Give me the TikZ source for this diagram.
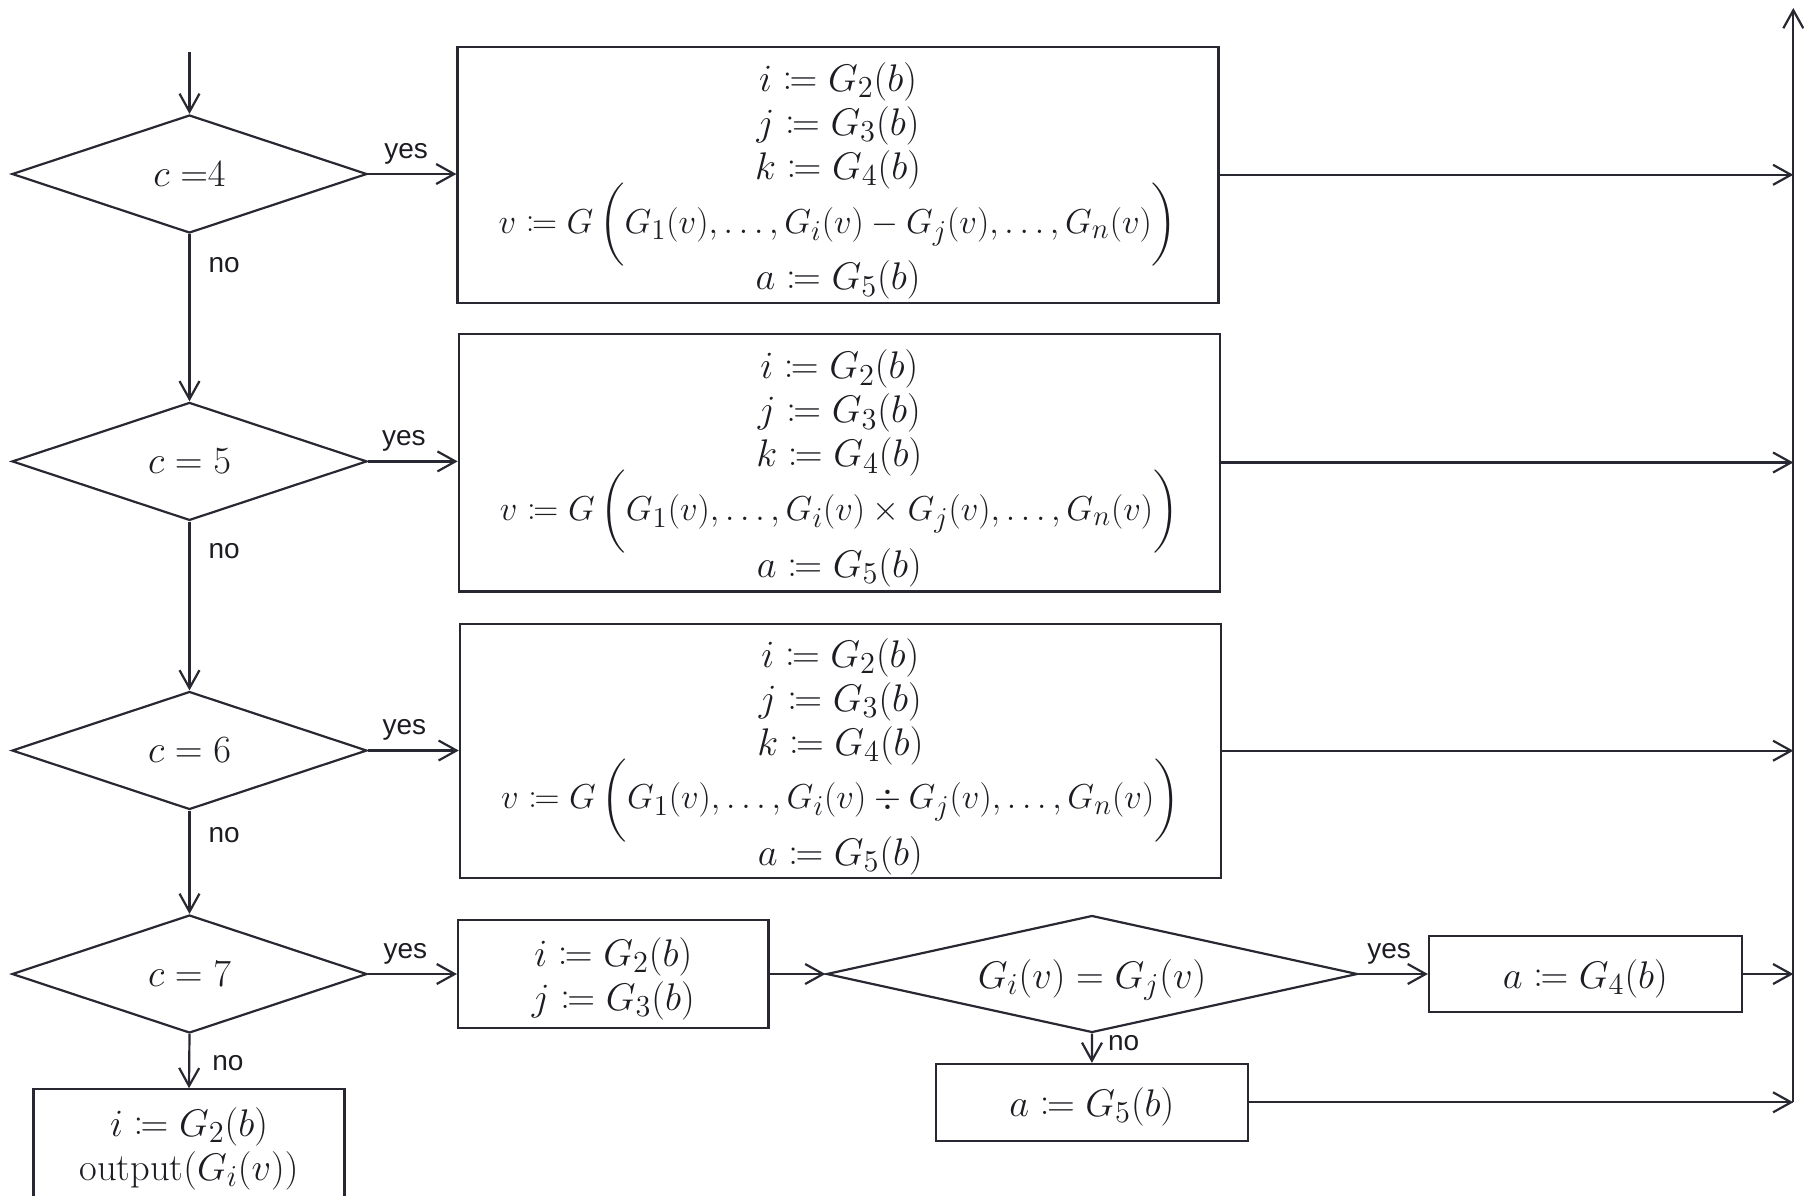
\RequirePackage{fix-cm}
\documentclass[tikz,border=0pt]{standalone}
\usepackage{mathtools}
\usepackage{fontspec}
\newfontfamily\lblfont{Liberation Sans}
\usetikzlibrary{shapes.geometric,arrows.meta}
\DeclareMathSizes{19.25}{19.25}{15.2}{12}
\DeclareMathSizes{17.3}{17.3}{14.4}{12}
\definecolor{ink}{RGB}{40,40,50}
\definecolor{txt}{RGB}{28,28,34}
\newcommand{\mfont}{\fontsize{19.25}{22}\selectfont}
\newcommand{\lfont}{\fontsize{17.3}{22}\selectfont}
\newcommand{\topstrut}{\rule{0pt}{20.4pt}}
\begin{document}
\begin{tikzpicture}[x=0.5pt,y=-0.5pt,
  line/.style={draw=ink, line width=1.1pt},
  arr/.style={draw=ink, line width=1.1pt, -{Straight Barb[length=9pt,width=10pt]}},
  box/.style={draw=ink, line width=1.1pt, rectangle, inner sep=0pt, align=center, text=txt, font=\mfont},
  one/.style={text height=19pt, text depth=5pt},
  dec/.style={draw=ink, line width=1.1pt, diamond, aspect=3, inner sep=0pt, text=txt, font=\mfont},
  lbl/.style={text=txt, font=\lblfont\fontsize{14}{16}\selectfont, inner sep=0pt}
]
\useasboundingbox (0,0) rectangle (1804,1195);
\clip (0,0) rectangle (1804,1195);

% decisions
\node[dec, minimum width=177.5pt, minimum height=59pt] (d1) at (189.5,174) {$c\;{=}4$};
\node[dec, minimum width=177.5pt, minimum height=59pt] (d2) at (189.5,461.4) {$c = 5$};
\node[dec, minimum width=177.5pt, minimum height=59pt] (d3) at (189.5,750.5) {$c = 6$};
\node[dec, minimum width=177.5pt, minimum height=59pt] (d4) at (189.5,974) {$c = 7$};
\node[dec, one, aspect=4, minimum width=265.5pt, minimum height=58.5pt] (d5) at (1092,974) {$G_i(v) = G_j(v)$};

% boxes
\node[box, minimum width=380.5pt, minimum height=127.8pt] (b1) at (838,174.8)
  {\topstrut$i \coloneqq G_2(b)$\\ $j \coloneqq G_3(b)$\\ $k \coloneqq G_4(b)$\\[-3.9pt]
   {\lfont$v \coloneqq G\,\bigg(G_1(v),\ldots,G_i(v)-G_j(v),\ldots,G_n(v)\bigg)$}\\[-3.5pt] $a \coloneqq G_5(b)$};
\node[box, minimum width=380.5pt, minimum height=128.9pt] (b2) at (839.3,462.5)
  {\topstrut$i \coloneqq G_2(b)$\\ $j \coloneqq G_3(b)$\\ $k \coloneqq G_4(b)$\\[-3.9pt]
   {\lfont$v \coloneqq G\,\bigg(G_1(v),\ldots,G_i(v)\times G_j(v),\ldots,G_n(v)\bigg)$}\\[-3.5pt] $a \coloneqq G_5(b)$};
\node[box, minimum width=380.5pt, minimum height=127pt] (b3) at (840.4,750.7)
  {\topstrut$i \coloneqq G_2(b)$\\ $j \coloneqq G_3(b)$\\ $k \coloneqq G_4(b)$\\[-3.9pt]
   {\lfont$v \coloneqq G\,\bigg(G_1(v),\ldots,G_i(v)\div G_j(v),\ldots,G_n(v)\bigg)$}\\[-3.5pt] $a \coloneqq G_5(b)$};
\node[box, minimum width=155.25pt, minimum height=54.25pt] (b4) at (613.3,974)
  {\rule{0pt}{19pt}$i \coloneqq G_2(b)$\\ $j \coloneqq G_3(b)$};
\node[box, one, minimum width=156.35pt, minimum height=38pt] (b5) at (1585.4,974) {$a \coloneqq G_4(b)$};
\node[box, one, minimum width=155.85pt, minimum height=38.35pt] (b6) at (1091.9,1102.3) {$a \coloneqq G_5(b)$};
\node[box, minimum width=155.5pt, minimum height=59.2pt] (b7) at (189,1148.5)
  {$i \coloneqq G_2(b)$\\ $\mathrm{output}(G_i(v))$};

% coordinates
\coordinate (start) at (189.5,52);
\coordinate (busT) at (1793.3,8);
\coordinate (busB) at (1793.3,1102.3);

% connectors
\draw[arr] (start) -- (d1.north);
\draw[arr] (d1.east) -- node[lbl, pos=0.43, yshift=8pt, anchor=base] (y1) {yes} (b1.west |- d1.east);
\draw[arr] (d2.east) -- node[lbl, pos=0.4, yshift=8pt, anchor=base] (y2) {yes} (b2.west |- d2.east);
\draw[arr] (d3.east) -- node[lbl, pos=0.4, yshift=8pt, anchor=base] (y3) {yes} (b3.west |- d3.east);
\draw[arr] (d4.east) -- node[lbl, pos=0.42, yshift=8pt, anchor=base] (y4) {yes} (b4.west |- d4.east);
\draw[arr] (d1.south) -- node[lbl, pos=0.23, anchor=base west, xshift=9pt] (n1) {no} (d2.north);
\draw[arr] (d2.south) -- node[lbl, pos=0.22, anchor=base west, xshift=9pt] (n2) {no} (d3.north);
\draw[arr] (d3.south) -- node[lbl, pos=0.31, anchor=base west, xshift=9pt] (n3) {no} (d4.north);
\draw[arr] (d4.south) -- node[lbl, pos=0.68, anchor=base west, xshift=11pt] (n4) {no} (b7.north);
\draw[arr] (b4.east) -- (d5.west);
\draw[arr] (d5.east) -- node[lbl, pos=0.44, yshift=8pt, anchor=base] (y5) {yes} (b5.west);
\draw[arr] (d5.south) -- node[lbl, pos=0.57, anchor=base west, xshift=7.5pt] (n5) {no} (b6.north);

\draw[arr] (b1.east) -- (b1.east -| busT);
\draw[arr] (b2.east) -- (b2.east -| busT);
\draw[arr] (b3.east) -- (b3.east -| busT);
\draw[arr] (b5.east) -- (b5.east -| busT);
\draw[arr] (b6.east) -- (b6.east -| busT);
\draw[arr] (busB) -- (busT);
\end{tikzpicture}
\end{document}
